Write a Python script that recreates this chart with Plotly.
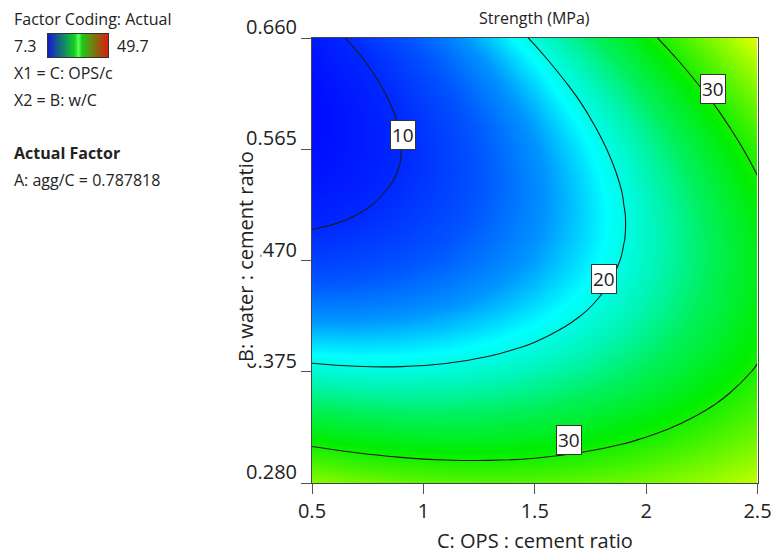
import plotly.graph_objects as go

# ---------------- data ----------------
ops_c = [0.5, 0.7, 0.9, 1.1, 1.3, 1.5, 1.7, 1.9, 2.1, 2.3, 2.5]
w_c = [0.28, 0.299, 0.318, 0.337, 0.356, 0.375, 0.394, 0.413, 0.432, 0.451, 0.47,
       0.489, 0.508, 0.527, 0.546, 0.565, 0.584, 0.603, 0.622, 0.641, 0.66]
strength = [
    [35.27, 34.21, 33.44, 32.96, 32.77, 32.86, 33.24, 33.91, 34.86, 36.10, 37.63],
    [31.98, 31.06, 30.43, 30.09, 30.04, 30.27, 30.80, 31.60, 32.70, 34.08, 35.75],
    [28.89, 28.12, 27.63, 27.43, 27.52, 27.89, 28.56, 29.51, 30.74, 32.27, 34.08],
    [26.01, 25.38, 25.03, 24.97, 25.20, 25.72, 26.53, 27.62, 29.00, 30.66, 32.62],
    [23.33, 22.84, 22.64, 22.72, 23.10, 23.75, 24.70, 25.93, 27.45, 29.26, 31.36],
    [20.87, 20.52, 20.46, 20.68, 21.20, 22.00, 23.08, 24.46, 26.12, 28.07, 30.31],
    [18.60, 18.40, 18.48, 18.85, 19.50, 20.44, 21.67, 23.19, 24.99, 27.08, 29.46],
    [16.55, 16.49, 16.71, 17.22, 18.01, 19.10, 20.47, 22.13, 24.07, 26.30, 28.82],
    [14.70, 14.78, 15.14, 15.79, 16.73, 17.96, 19.47, 21.27, 23.36, 25.73, 28.39],
    [13.06, 13.28, 13.79, 14.58, 15.66, 17.03, 18.68, 20.62, 22.85, 25.37, 28.17],
    [11.63, 11.99, 12.64, 13.57, 14.79, 16.30, 18.10, 20.18, 22.55, 25.21, 28.15],
    [10.40, 10.91, 11.69, 12.77, 14.13, 15.78, 17.72, 19.94, 22.45, 25.25, 28.34],
    [9.38, 10.03, 10.96, 12.17, 13.68, 15.47, 17.55, 19.91, 22.57, 25.51, 28.74],
    [8.57, 9.36, 10.43, 11.79, 13.43, 15.37, 17.59, 20.09, 22.89, 25.97, 29.34],
    [7.96, 8.89, 10.10, 11.60, 13.39, 15.47, 17.83, 20.48, 23.41, 26.64, 30.15],
    [7.57, 8.63, 9.99, 11.63, 13.56, 15.78, 18.28, 21.07, 24.15, 27.51, 31.17],
    [7.37, 8.58, 10.08, 11.86, 13.93, 16.29, 18.94, 21.87, 25.09, 28.59, 32.39],
    [7.39, 8.74, 10.38, 12.30, 14.51, 17.01, 19.80, 22.87, 26.24, 29.88, 33.82],
    [7.61, 9.10, 10.88, 12.95, 15.30, 17.94, 20.87, 24.09, 27.59, 31.38, 35.46],
    [8.04, 9.67, 11.59, 13.80, 16.30, 19.08, 22.15, 25.50, 29.15, 33.08, 37.30],
    [8.67, 10.45, 12.51, 14.86, 17.50, 20.42, 23.63, 27.13, 30.92, 34.99, 39.35],
]
contour_levels = [10, 20, 30]
legend_range = [7.3, 49.7]
x_ticks = [0.5, 1, 1.5, 2, 2.5]
y_ticks = [0.28, 0.375, 0.47, 0.565, 0.66]
# contour label texts and where they sit (data coords)
label_texts = ["10", "20", "30", "30"]
label_x = [0.909, 1.813, 2.302, 1.652]
label_y = [0.577, 0.4542, 0.6164, 0.3163]
# colour ramp of the map: strength value -> colour
ramp_values = [7.3, 10, 13, 16, 19, 22, 25, 29, 33, 37.6, 40, 49.7]
ramp_colours = ["rgb(0,10,255)", "rgb(0,40,255)", "rgb(0,85,255)", "rgb(0,150,255)",
                "rgb(0,255,255)", "rgb(0,245,180)", "rgb(0,240,90)", "rgb(0,238,0)",
                "rgb(90,245,0)", "rgb(190,255,0)", "rgb(240,255,0)", "rgb(255,0,0)"]

W, H = 774, 555
FONT = "Open Sans"
TXT = "#222222"


def px(x):
    return x / W


def py(y):
    return 1 - y / H


span = legend_range[1] - legend_range[0]
main_cs = [[(v - legend_range[0]) / span, c] for v, c in zip(ramp_values, ramp_colours)]
legend_cs = [[0.0, "rgb(20,30,200)"], [0.44, "rgb(20,210,30)"], [0.5, "rgb(90,255,90)"],
             [0.56, "rgb(30,200,20)"], [0.78, "rgb(130,110,15)"], [1.0, "rgb(225,25,15)"]]

fig = go.Figure()
fig.add_trace(go.Heatmap(
    x=ops_c, y=w_c, z=strength, zsmooth="best", colorscale=main_cs,
    zmin=legend_range[0], zmax=legend_range[1], showscale=False, hoverinfo="skip"))
fig.add_trace(go.Contour(
    x=ops_c, y=w_c, z=strength, showscale=False, hoverinfo="skip",
    contours=dict(coloring="none", start=contour_levels[0], end=contour_levels[-1],
                  size=contour_levels[1] - contour_levels[0], showlabels=False),
    line=dict(color="#1a1a1a", width=1.1, smoothing=1.3)))
# legend gradient bar
fig.add_trace(go.Heatmap(
    x=[0, 1], y=[0, 1], z=[legend_range, legend_range], zsmooth="best",
    colorscale=legend_cs, zmin=legend_range[0], zmax=legend_range[1],
    showscale=False, hoverinfo="skip", xaxis="x2", yaxis="y2"))

axis_common = dict(showline=True, linecolor="#444444", linewidth=1, mirror=True,
                   ticks="outside", ticklen=10, tickcolor="#555555", tickwidth=1,
                   showgrid=False, zeroline=False, automargin=False,
                   tickfont=dict(family=FONT, size=20, color=TXT))
small_axis = dict(range=[0, 1], showline=True, mirror=True, linecolor="#333333",
                  linewidth=1, showticklabels=False, ticks="", showgrid=False,
                  zeroline=False, automargin=False)

fig.update_layout(
    width=W, height=H, margin=dict(l=0, r=0, t=0, b=0, autoexpand=False),
    paper_bgcolor="white", plot_bgcolor="white", showlegend=False,
    xaxis=dict(domain=[px(312), px(757.5)], range=[0.5, 2.5], tickvals=x_ticks,
               ticktext=[f"{v:g}" for v in x_ticks], **axis_common),
    yaxis=dict(domain=[py(483), py(38)], range=[0.28, 0.66], tickvals=y_ticks,
               ticktext=[f"{v:.3f}" for v in y_ticks], ticklabelshift=-11,
               **axis_common),
    xaxis2=dict(domain=[px(48), px(108)], anchor="y2", **small_axis),
    yaxis2=dict(domain=[py(57), py(34)], anchor="x2", **small_axis),
)

ann = []
# contour labels in white boxes
for t, lx, ly in zip(label_texts, label_x, label_y):
    ann.append(dict(x=lx, y=ly, xref="x", yref="y", text=t, showarrow=False,
                    font=dict(family=FONT, size=19, color=TXT), bgcolor="white",
                    bordercolor="#333333", borderwidth=1, borderpad=1))
# title
ann.append(dict(x=px(534.5), y=py(18), xref="paper", yref="paper", text="Strength (MPa)",
                showarrow=False, font=dict(family=FONT, size=16, color=TXT),
                xanchor="center", yanchor="middle"))
# x-axis title
ann.append(dict(x=px(534.5), y=py(540), xref="paper", yref="paper",
                text="C: OPS : cement ratio", showarrow=False,
                font=dict(family=FONT, size=20, color=TXT),
                xanchor="center", yanchor="middle"))
# y-axis title (drawn over tick labels like the original)
ann.append(dict(x=px(246), y=py(257), xref="paper", yref="paper",
                text="B: water : cement ratio", textangle=-90, showarrow=False,
                font=dict(family=FONT, size=20, color=TXT), bgcolor="white",
                borderpad=1, xanchor="center", yanchor="middle"))
# left info block
info = [
    ("Factor Coding: Actual", 19),
    ("X1 = C: OPS/c", 73),
    ("X2 = B: w/C", 100),
    ("<b>Actual Factor</b>", 153),
    ("A: agg/C = 0.787818", 180),
]
for t, yy in info:
    ann.append(dict(x=px(12), y=py(yy), xref="paper", yref="paper", text=t,
                    showarrow=False, xanchor="left", yanchor="middle",
                    font=dict(family=FONT, size=16, color=TXT)))
ann.append(dict(x=px(12), y=py(46), xref="paper", yref="paper", text=f"{legend_range[0]}",
                showarrow=False, xanchor="left", yanchor="middle",
                font=dict(family=FONT, size=16, color=TXT)))
ann.append(dict(x=px(115), y=py(46), xref="paper", yref="paper", text=f"{legend_range[1]}",
                showarrow=False, xanchor="left", yanchor="middle",
                font=dict(family=FONT, size=16, color=TXT)))
fig.update_layout(annotations=ann)

fig.write_html("out.html")
